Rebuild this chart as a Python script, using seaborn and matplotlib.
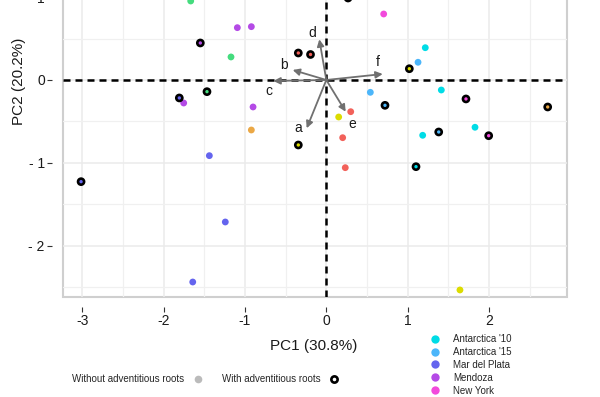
import matplotlib
matplotlib.use("Agg")
import matplotlib.pyplot as plt
import seaborn as sns
import pandas as pd
from matplotlib.lines import Line2D

# site colours (the last four sites are cut off the legend in the reference)
sites = ["Antarctica '10", "Antarctica '15", "Mar del Plata", "Mendoza", "New York",
         "site 6", "site 7", "site 8", "site 9"]
site_colors = ["#00DCE6", "#4CB6FA", "#6464EE", "#B44AE6", "#F24ADC",
               "#F2615A", "#EBA845", "#DCDC00", "#45DC7E"]
palette = dict(zip(sites, site_colors))

# plants without adventitious roots
pc1_plain = [-1.666, -1.093, -0.921, -1.171, -1.752, -0.900, -0.921, -1.437, -1.241, -1.641,
             1.642, 0.705, 1.216, 1.127, 0.541, 1.413, 0.300, 0.152, 1.827, 1.184, 0.201, 0.233]
pc2_plain = [0.954, 0.632, 0.644, 0.278, -0.278, -0.326, -0.604, -0.914, -1.715, -2.440,
             -2.536, 0.797, 0.390, 0.214, -0.149, -0.121, -0.383, -0.447, -0.571, -0.668, -0.697, -1.059]
site_plain = ["site 9", "Mendoza", "Mendoza", "site 9", "Mendoza", "Mendoza", "site 7",
              "Mar del Plata", "Mar del Plata", "Mar del Plata", "site 8", "New York",
              "Antarctica '10", "Antarctica '15", "Antarctica '15", "Antarctica '10", "site 6",
              "site 8", "Antarctica '10", "Antarctica '10", "site 6", "site 6"]

# plants with adventitious roots
pc1_roots = [-1.548, -1.806, -1.466, -0.344, -3.013, -0.344, -0.194, 1.020, 1.716, 0.721,
             2.720, 1.381, 1.995, 1.102, 0.267]
pc2_roots = [0.447, -0.217, -0.141, -0.785, -1.228, 0.326, 0.308, 0.136, -0.229, -0.306,
             -0.326, -0.628, -0.673, -1.047, 0.99]
site_roots = ["Mendoza", "Mar del Plata", "site 9", "site 8", "Mar del Plata", "site 6", "site 6",
              "site 8", "New York", "Antarctica '15", "site 7", "Antarctica '15", "New York",
              "Antarctica '10", "site 6"]

# loadings (arrows)
var_names = ["a", "b", "c", "d", "e", "f"]
load_pc1 = [-0.241, -0.413, -0.651, -0.086, 0.238, 0.693]
load_pc2 = [-0.583, 0.121, -0.012, 0.491, -0.383, 0.072]
lab_pc1 = [-0.344, -0.516, -0.700, -0.167, 0.316, 0.635]
lab_pc2 = [-0.580, 0.181, -0.129, 0.571, -0.535, 0.221]

plain = pd.DataFrame({"PC1": pc1_plain, "PC2": pc2_plain, "site": site_plain})
roots = pd.DataFrame({"PC1": pc1_roots, "PC2": pc2_roots, "site": site_roots})

sns.set_style("white")
plt.rcParams["font.family"] = ["Liberation Sans", "DejaVu Sans"]

fig = plt.figure(figsize=(6, 3.97), dpi=100)
# panel top lies above the visible canvas (reference is cropped)
ax = fig.add_axes([63 / 600, 100 / 397, 503.5 / 600, 1.0889])

ax.axhline(0, color="black", ls=(0, (2.8, 2)), lw=1.8, zorder=2)
ax.axvline(0, color="black", ls=(0, (2.8, 2)), lw=1.8, zorder=2)

sns.scatterplot(data=plain, x="PC1", y="PC2", hue="site", palette=palette, s=24,
                linewidth=0, legend=False, ax=ax, zorder=3)
sns.scatterplot(data=roots, x="PC1", y="PC2", hue="site", palette=palette, s=19,
                edgecolor="black", linewidth=1.9, legend=False, ax=ax, zorder=3)

for name, x, y, lx, ly in zip(var_names, load_pc1, load_pc2, lab_pc1, lab_pc2):
    ax.annotate("", xy=(x, y), xytext=(0, 0),
                arrowprops=dict(arrowstyle="-|>", color="#707070", lw=1.3,
                                mutation_scale=10, shrinkA=0, shrinkB=0), zorder=4)
    ax.text(lx, ly, name, fontsize=10, color="#1a1a1a", ha="center", va="center", zorder=4)

ax.set_xticks([-3, -2, -1, 0, 1, 2])
ax.set_xticklabels(["-3", "-2", "-1", "0", "1", "2"])
ax.set_yticks([-2, -1, 0, 1, 2])
ax.set_yticklabels(["- 2", "- 1", "0", "1", "2"])
ax.set_xticks([-2.5, -1.5, -0.5, 0.5, 1.5, 2.5], minor=True)
ax.set_yticks([-2.5, -1.5, -0.5, 0.5, 1.5, 2.5], minor=True)
ax.set_xlim(-3.235, 2.951)
ax.set_ylim(-2.621, 2.6)
ax.grid(True, which="major", color="#EBEBEB", lw=1.1)
ax.grid(True, which="minor", color="#F0F0F0", lw=0.9)
ax.set_axisbelow(True)
ax.set_xlabel("")
ax.set_ylabel("")

for side in ["left", "bottom", "top", "right"]:
    ax.spines[side].set_visible(False)
ax.spines["left"].set_position(("outward", 8))
ax.spines["bottom"].set_position(("outward", 7.2))
ax.patch.set_edgecolor("#CFCFCF")
ax.patch.set_linewidth(1.5)
ax.tick_params(which="major", left=True, bottom=True, length=3.6, width=0.8,
               color="#333333", labelsize=10, labelcolor="#1a1a1a", pad=1.5)
ax.tick_params(which="minor", length=0)

fig.text(19 / 600, 1 - 81 / 397, "PC2 (20.2%)", rotation=90, ha="center", va="center",
         fontsize=11, color="#1a1a1a")
fig.text(314 / 600, 1 - 346 / 397, "PC1 (30.8%)", ha="center", va="center",
         fontsize=11, color="#1a1a1a")

site_handles = [Line2D([], [], ls="", marker="o", markersize=6, markeredgewidth=0,
                       color=palette[s]) for s in sites[:5]]
fig.legend(site_handles, sites[:5], loc="upper left", bbox_to_anchor=(425 / 600, 1 - 334 / 397),
           frameon=False, fontsize=7, handletextpad=0.9, labelspacing=0.3,
           borderaxespad=0, borderpad=0)

root_handles = [Line2D([], [], ls="", marker="o", markersize=5.5, markeredgewidth=0,
                       color="#BBBBBB"),
                Line2D([], [], ls="", marker="o", markersize=4.5, markeredgewidth=1.9,
                       markerfacecolor="white", markeredgecolor="black")]
fig.legend(root_handles, ["Without adventitious roots", "With adventitious roots"],
           loc="center left", bbox_to_anchor=(72 / 600, 1 - 379 / 397), ncol=2,
           markerfirst=False, frameon=False, fontsize=7, handletextpad=0.4,
           columnspacing=1.5, borderaxespad=0, borderpad=0)

fig.savefig("out.png", dpi=100)
